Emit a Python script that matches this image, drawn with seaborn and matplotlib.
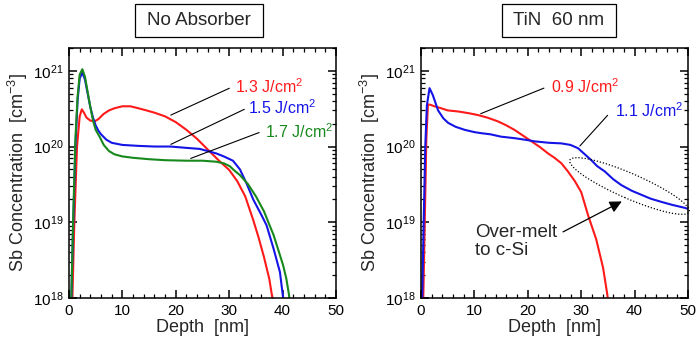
import numpy as np
import pandas as pd
import matplotlib
matplotlib.use("Agg")
import matplotlib.pyplot as plt
from matplotlib.patches import Rectangle, Ellipse
from matplotlib.ticker import MultipleLocator, LogLocator, NullFormatter
import seaborn as sns

# ---------------- data ----------------
# Left panel: No Absorber
na13_x = [0.6, 1.0, 1.5, 2.0, 2.4, 2.8, 3.3, 4.0, 4.8, 5.5, 6.5, 7.5, 8.5, 10, 11.5, 13, 14.5, 16,
          18, 20, 22, 24, 26, 28, 30, 31.5, 33, 34.5, 35.5, 36.5, 37.5, 38.2]
na13_y = [8e17, 1e19, 1e20, 2.5e20, 3.1e20, 2.8e20, 2.4e20, 2.2e20, 2.15e20, 2.3e20, 2.7e20, 3.0e20,
          3.2e20, 3.4e20, 3.4e20, 3.2e20, 3.0e20, 2.8e20, 2.5e20, 2.1e20, 1.66e20, 1.26e20, 9.1e19,
          6.6e19, 4.9e19, 3.5e19, 2.2e19, 1.07e19, 6.3e18, 3.5e18, 1.8e18, 8.9e17]

na15_x = [0.4, 0.8, 1.2, 1.6, 2.0, 2.5, 3.0, 3.5, 4.0, 4.5, 5.0, 5.5, 6.0, 7.0, 8.0, 10, 13, 16, 19,
          22, 24.5, 26, 27.6, 29, 30.7, 32, 33.3, 34.5, 36, 37, 38.3, 39.5, 40.1, 40.3]
na15_y = [8e17, 1e19, 1e20, 4e20, 7.9e20, 9.5e20, 7.6e20, 5e20, 3.3e20, 2.4e20, 1.9e20, 1.62e20,
          1.45e20, 1.23e20, 1.12e20, 1.05e20, 1.02e20, 1.0e20, 1.0e20, 9.6e19, 9.3e19, 8.7e19,
          8.1e19, 7.4e19, 6.5e19, 5.0e19, 3.2e19, 2.0e19, 1.26e19, 9.1e18, 4.5e18, 2.2e18, 1.0e18, 8e17]

na17_x = [0.4, 0.8, 1.2, 1.6, 2.0, 2.5, 3.0, 3.5, 4.0, 4.5, 5.0, 5.8, 6.5, 7.5, 8.5, 10, 12, 15, 18,
          22, 25, 27.6, 29, 30.1, 31, 32, 33.5, 35, 36.5, 38.3, 39.2, 40.1, 40.7, 41.2, 41.4]
na17_y = [8e17, 1.26e19, 1.26e20, 4.5e20, 8.9e20, 1.05e21, 8.3e20, 5.2e20, 3.3e20, 2.2e20, 1.66e20,
          1.32e20, 1.05e20, 8.7e19, 7.9e19, 7.4e19, 7.1e19, 6.8e19, 6.6e19, 6.5e19, 6.5e19, 6.3e19,
          6.0e19, 5.5e19, 4.8e19, 4.2e19, 3.2e19, 2.2e19, 1.4e19, 6.8e18, 4.3e18, 2.7e18, 1.8e18,
          1.1e18, 8e17]

# Right panel: TiN 60 nm
tin09_x = [0.4, 0.7, 1.0, 1.3, 1.8, 2.5, 3.8, 5, 7, 9, 10.7, 12.5, 14.4, 16, 17.5, 19, 20.7, 22.3,
           23.8, 25, 26.3, 27.5, 28.8, 30, 31.3, 32.8, 34.1, 34.9, 35.1]
tin09_y = [8e17, 1e19, 1.26e20, 3.6e20, 3.55e20, 3.4e20, 3.2e20, 3.0e20, 2.9e20, 2.75e20, 2.6e20,
           2.4e20, 2.15e20, 1.9e20, 1.66e20, 1.41e20, 1.17e20, 9.8e19, 8.1e19, 7.1e19, 6.0e19,
           4.7e19, 3.5e19, 2.5e19, 1.23e19, 6.0e18, 2.5e18, 1.1e18, 8e17]

tin11_x = [0.2, 0.5, 0.8, 1.1, 1.6, 2.2, 3.2, 4.2, 5.1, 6.5, 8.2, 10, 11.3, 13, 15, 17.5, 19.5, 21.3,
           24, 26.3, 28, 29.4, 30.5, 31.9, 33, 34.4, 36, 37.5, 39.5, 41.3, 43, 45, 47, 49.4, 50]
tin11_y = [8e17, 1e19, 1e20, 3.5e20, 5.9e20, 4.8e20, 3.0e20, 2.35e20, 2.05e20, 1.82e20, 1.66e20,
           1.55e20, 1.5e20, 1.45e20, 1.35e20, 1.29e20, 1.23e20, 1.17e20, 1.12e20, 1.1e20, 1.05e20,
           9.5e19, 8.1e19, 6.6e19, 5.5e19, 4.7e19, 3.7e19, 3.1e19, 2.6e19, 2.3e19, 2.05e19, 1.86e19,
           1.7e19, 1.55e19, 1.5e19]

panel_titles = ["No Absorber", "TiN  60 nm"]
left_labels = ["1.3 J/cm$^{2}$", "1.5 J/cm$^{2}$", "1.7 J/cm$^{2}$"]
right_labels = ["0.9 J/cm$^{2}$", "1.1 J/cm$^{2}$"]
xticks = [0, 10, 20, 30, 40, 50]

RED, BLUE, GREEN = "#ff1a1a", "#1414e6", "#17891c"

# ---------------- style ----------------
sns.set_theme(style="ticks")
plt.rcParams["font.family"] = ["Liberation Sans", "DejaVu Sans"]
plt.rcParams["mathtext.fontset"] = "custom"
plt.rcParams["mathtext.rm"] = "Liberation Sans"
plt.rcParams["mathtext.it"] = "Liberation Sans"
plt.rcParams["axes.linewidth"] = 1.1
plt.rcParams["axes.edgecolor"] = "black"

fig = plt.figure(figsize=(6.98, 3.44), dpi=100)
axL = fig.add_axes([69 / 698, 46 / 344, 267 / 698, 250 / 344])
axR = fig.add_axes([421 / 698, 46 / 344, 267 / 698, 250 / 344])


def make_df(xs, ys, names):
    frames = []
    for x, y, n in zip(xs, ys, names):
        frames.append(pd.DataFrame({"Depth": x, "Conc": y, "series": n}))
    return pd.concat(frames, ignore_index=True)


dfL = make_df([na13_x, na15_x, na17_x], [na13_y, na15_y, na17_y], left_labels)
dfR = make_df([tin09_x, tin11_x], [tin09_y, tin11_y], right_labels)

sns.lineplot(data=dfL, x="Depth", y="Conc", hue="series", palette=[RED, BLUE, GREEN],
             hue_order=left_labels, lw=1.5, legend=False, ax=axL, sort=False, estimator=None)
sns.lineplot(data=dfR, x="Depth", y="Conc", hue="series", palette=[RED, BLUE],
             hue_order=right_labels, lw=1.5, legend=False, ax=axR, sort=False, estimator=None)

for ax in (axL, axR):
    ax.set_yscale("log")
    ax.set_xlim(0, 50)
    ax.set_ylim(1e18, 2e21)
    ax.set_xticks(xticks)
    ax.xaxis.set_minor_locator(MultipleLocator(2))
    ax.yaxis.set_major_locator(LogLocator(base=10, numticks=10))
    ax.yaxis.set_minor_locator(LogLocator(base=10, subs=np.arange(2, 10), numticks=20))
    ax.yaxis.set_minor_formatter(NullFormatter())
    ax.tick_params(which="both", direction="in", top=True, right=True, bottom=True, left=True,
                   color="black", labelcolor="black", labelsize=11)
    ax.tick_params(which="major", length=5.5, width=1.1, pad=4)
    ax.tick_params(which="minor", length=3, width=0.9)
    ax.set_xlabel("Depth  [nm]", fontsize=13, labelpad=1)
    ax.set_ylabel("Sb Concentration  [cm$^{-3}$]", fontsize=13, labelpad=2)
    for s in ax.spines.values():
        s.set_color("black")
        s.set_visible(True)

# ---------------- title boxes ----------------
for (bx, bw, cx), title in zip([(135, 128, 199), (502, 114, 559)], panel_titles):
    fig.patches.append(Rectangle((bx / 698, (344 - 37) / 344), bw / 698, 33 / 344,
                                 transform=fig.transFigure, fill=False, lw=0.9,
                                 edgecolor="black"))
    fig.text(cx / 698, (344 - 20.5) / 344, title, ha="center", va="center", fontsize=13.5)

# ---------------- annotations ----------------
line_kw = dict(color="black", lw=0.8)
# left
axL.annotate("", xy=(18.6, 10 ** 20.40), xytext=(30.5, 10 ** 20.785),
             arrowprops=dict(arrowstyle="-", **line_kw))
axL.text(31.1, 10 ** 20.79, left_labels[0], color=RED, fontsize=11.5, ha="left", va="center")
axL.annotate("", xy=(18.6, 10 ** 20.013), xytext=(33.3, 10 ** 20.507),
             arrowprops=dict(arrowstyle="-", **line_kw))
axL.text(33.5, 10 ** 20.51, left_labels[1], color=BLUE, fontsize=11.5, ha="left", va="center")
axL.annotate("", xy=(22.3, 10 ** 19.83), xytext=(36.1, 10 ** 20.198),
             arrowprops=dict(arrowstyle="-", **line_kw))
axL.text(36.7, 10 ** 20.19, left_labels[2], color=GREEN, fontsize=11.5, ha="left", va="center")

# right
axR.annotate("", xy=(10.7, 10 ** 20.42), xytext=(23.5, 10 ** 20.785),
             arrowprops=dict(arrowstyle="-", **line_kw))
axR.text(24.3, 10 ** 20.79, right_labels[0], color=RED, fontsize=11.5, ha="left", va="center")
axR.annotate("", xy=(29.4, 10 ** 19.98), xytext=(35.3, 10 ** 20.44),
             arrowprops=dict(arrowstyle="-", **line_kw))
axR.text(36.3, 10 ** 20.48, right_labels[1], color=BLUE, fontsize=11.5, ha="left", va="center")

axR.text(10.05, 10 ** 18.743, "Over-melt\nto c-Si", fontsize=13.5, ha="left", va="center",
         linespacing=1.05)
axR.annotate("", xy=(37.6, 10 ** 19.275), xytext=(26.6, 10 ** 18.873),
             arrowprops=dict(arrowstyle="-|>", mutation_scale=18, color="black", lw=0.9,
                             shrinkA=0, shrinkB=0))

ell = Ellipse((6.295, (344 - 186) / 100), 1.30, 0.25, angle=-23.5,
              transform=fig.dpi_scale_trans, fill=False, ls=(0, (1, 1.5)), lw=0.9,
              edgecolor="black")
fig.patches.append(ell)

fig.savefig("out.png", dpi=100)
